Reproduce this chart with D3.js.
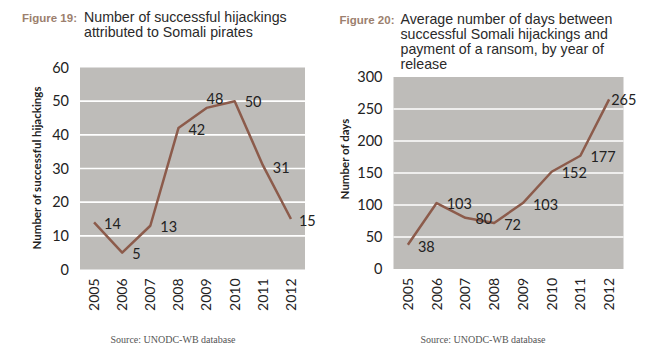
<!DOCTYPE html>
<html><head><meta charset="utf-8">
<script src="https://cdn.jsdelivr.net/npm/d3@7"></script>
<style>
body{margin:0;background:#fff;}
svg{display:block;}
</style></head>
<body>
<svg id="c" width="660" height="357"></svg>
<script>
const years = ["2005","2006","2007","2008","2009","2010","2011","2012"];
const hijackings = [14, 5, 13, 42, 48, 50, 31, 15];
const ransomDays = [38, 103, 80, 72, 103, 152, 177, 265];
const hijackTicks = [0, 10, 20, 30, 40, 50, 60];
const daysTicks = [0, 50, 100, 150, 200, 250, 300];
const title19 = ["Number of successful hijackings", "attributed to Somali pirates"];
const title20 = ["Average number of days between", "successful Somali hijackings and", "payment of a ransom, by year of", "release"];
const source = "Source: UNODC-WB database";

const svg = d3.select("#c");
const lineColor = "#8c5b4b";
const bg = "#bebcb9";

function chart(cfg){
  const g = svg.append("g");
  const x = d3.scaleBand().domain(years).range([cfg.x0, cfg.x1]);
  const y = d3.scaleLinear().domain([0, cfg.max]).range([cfg.y0, cfg.y1]);
  g.append("rect").attr("x", cfg.x0).attr("y", cfg.y1)
    .attr("width", cfg.x1 - cfg.x0).attr("height", cfg.y0 - cfg.y1).attr("fill", bg);
  g.selectAll("line.grid").data(cfg.ticks.filter(t => t > 0 && t < cfg.max)).join("line")
    .attr("x1", cfg.x0).attr("x2", cfg.x1)
    .attr("y1", d => y(d)).attr("y2", d => y(d))
    .attr("stroke", "#fff").attr("stroke-width", 1.6);
  // y axis
  const ya = g.append("g").attr("transform", `translate(${cfg.x0 - 8},0)`)
    .call(d3.axisLeft(y).tickValues(cfg.ticks).tickSize(0).tickPadding(3));
  ya.select(".domain").remove();
  ya.selectAll("text").attr("font-family", "Lato, 'Open Sans', sans-serif").attr("font-size", 14.5).attr("fill", "#222");
  // x axis
  const xa = g.append("g").attr("transform", `translate(0,${cfg.y0 + 9})`)
    .call(d3.axisBottom(x).tickSize(0).tickPadding(0));
  xa.select(".domain").remove();
  xa.selectAll("text").attr("font-family", "Lato, 'Open Sans', sans-serif").attr("font-size", 14).attr("fill", "#222")
    .attr("text-anchor", "end").attr("dy", "0.35em").attr("x", 0).attr("y", 0)
    .attr("transform", "rotate(-90)");
  // line
  const line = d3.line().x((d, i) => x(years[i]) + x.bandwidth() / 2).y(d => y(d));
  g.append("path").datum(cfg.data).attr("d", line).attr("fill", "none")
    .attr("stroke", lineColor).attr("stroke-width", 2.5).attr("stroke-linejoin", "round");
  // labels
  g.selectAll("text.lab").data(cfg.data).join("text")
    .attr("x", (d, i) => x(years[i]) + x.bandwidth() / 2 + cfg.lx[i])
    .attr("y", (d, i) => y(d) + cfg.ly[i])
    .attr("dy", "0.35em")
    .attr("font-family", "Lato, 'Open Sans', sans-serif").attr("font-size", 14.5).attr("fill", "#222")
    .text(d => d);
  // y title
  g.append("text").attr("transform", `translate(${cfg.tx},${cfg.ty}) rotate(-90)`)
    .attr("text-anchor", "middle").attr("dy", "0.35em")
    .attr("font-family", "Lato, 'Open Sans', sans-serif").attr("font-weight", "bold").attr("font-size", 11.5).attr("fill", "#222")
    .text(cfg.ytitle);
  // figure title
  g.append("text").attr("x", cfg.fx).attr("y", cfg.fy)
    .attr("font-family", "'Liberation Sans', Arial, sans-serif").attr("font-weight", "bold").attr("font-size", 11.5).attr("fill", "#9c7f6e")
    .text(cfg.fig);
  g.append("g").selectAll("text").data(cfg.title).join("text")
    .attr("x", cfg.tx0).attr("y", (d, i) => cfg.fy + i * 15)
    .attr("font-family", "'Liberation Sans', Arial, sans-serif").attr("font-size", 14.2).attr("fill", "#2a2a2a")
    .text(d => d);
  g.append("text").attr("x", cfg.sx).attr("y", 339).attr("dy", "0.35em").attr("text-anchor", "middle")
    .attr("font-family", "'Liberation Serif', 'DejaVu Serif', serif").attr("font-size", 10).attr("fill", "#555")
    .text(source);
}

chart({
  x0: 80, x1: 305, y0: 269.5, y1: 67.5, max: 60, ticks: hijackTicks, data: hijackings,
  lx: [10, 10, 10, 10, 0, 10, 10, 8], ly: [2, 1, 1, 1.5, -9, 1, 2.5, 2],
  ytitle: "Number of successful hijackings", tx: 37, ty: 168,
  fig: "Figure 19:", fx: 22, fy: 21.5, title: title19, tx0: 84, sx: 173
});
chart({
  x0: 393.5, x1: 623.5, y0: 269, y1: 77, max: 300, ticks: daysTicks, data: ransomDays,
  lx: [10, 10, 10, 10, 10, 10, 10, 2], ly: [2, 1, 1, 2, 2, 1, 1, 1],
  ytitle: "Number of days", tx: 345, ty: 159,
  fig: "Figure 20:", fx: 339.5, fy: 24, title: title20, tx0: 400.5, sx: 483
});
</script>
</body></html>
